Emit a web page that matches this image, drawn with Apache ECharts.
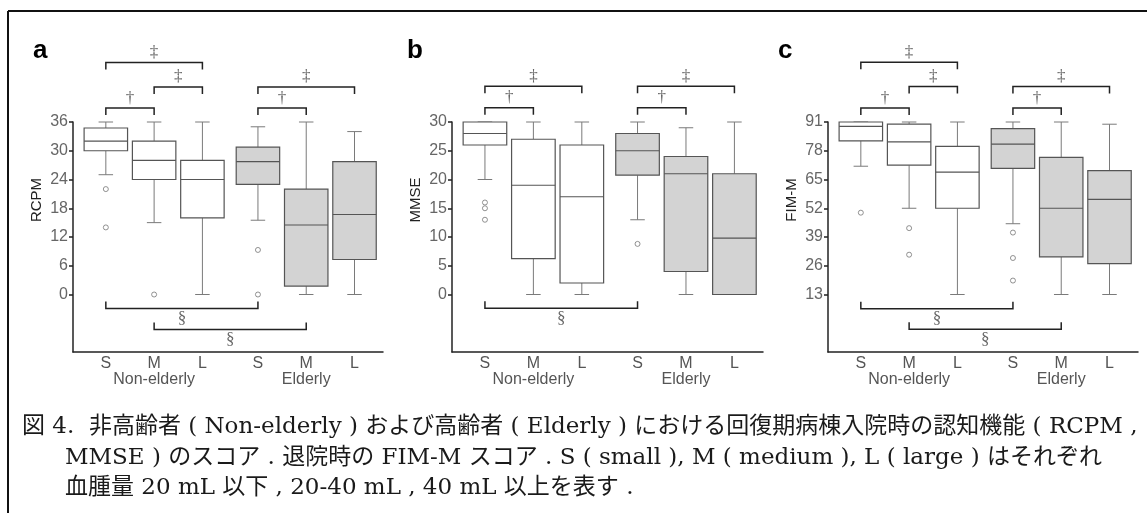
<!DOCTYPE html>
<html>
<head>
<meta charset="utf-8">
<script src="https://cdn.jsdelivr.net/npm/echarts@6/dist/echarts.min.js"></script>
<style>
  html, body { margin: 0; padding: 0; background: #fff; }
  #chart { width: 1147px; height: 513px; }
</style>
</head>
<body>
<div id="chart"></div>
<script>
// カテゴリ（血腫量）と群
const sizeLabels = ['S', 'M', 'L', 'S', 'M', 'L'];
const groupLabels = ['Non-elderly', 'Elderly'];
const xPos = [1, 2, 3, 4.15, 5.15, 6.15];

// 箱ひげ: [下ひげ, Q1, 中央値, Q3, 上ひげ]
const rcpmBoxes = [
  [25, 30, 32, 34.75, 36],
  [15, 24, 28, 32, 36],
  [0, 16, 24, 28, 36],
  [15.5, 23, 27.75, 30.75, 35],
  [0, 1.75, 14.5, 22, 36],
  [0, 7.3, 16.7, 27.75, 34]
];
const mmseBoxes = [
  [20, 26, 28, 30, 30],
  [0, 6.25, 19, 27, 30],
  [0, 2, 17, 26, 30],
  [13, 20.75, 25, 28, 30],
  [0, 4, 21, 24, 29],
  [0, 0, 9.8, 21, 30]
];
const fimBoxes = [
  [71, 82.5, 89, 91, 91],
  [52, 71.5, 82, 90, 91],
  [13, 52, 68.3, 80, 91],
  [45, 70, 81, 88, 91],
  [13, 30, 52, 75, 91],
  [13, 27, 56, 69, 90]
];

// 外れ値: [箱の番号, 値]
const rcpmOutliers = [[0, 22], [0, 14], [1, 0], [3, 9.3], [3, 0]];
const mmseOutliers = [[0, 16], [0, 15], [0, 13], [3, 8.8]];
const fimOutliers = [[0, 50], [1, 43], [1, 31], [3, 41], [3, 29.5], [3, 19.3]];

// 有意差ブラケット: [始点の箱, 終点の箱, 高さ(値), 記号]
const rcpmUpper = [[0, 1, 38.9, '†'], [1, 2, 43.3, '‡'], [0, 2, 48.4, '‡'], [3, 4, 38.9, '†'], [3, 5, 43.3, '‡']];
const rcpmLower = [[0, 3, -2.9, '§'], [1, 4, -7.3, '§']];
const mmseUpper = [[0, 1, 32.5, '†'], [0, 2, 36.2, '‡'], [3, 4, 32.5, '†'], [3, 5, 36.2, '‡']];
const mmseLower = [[0, 3, -2.4, '§']];
const fimUpper = [[0, 1, 97.3, '†'], [1, 2, 107, '‡'], [0, 2, 118, '‡'], [3, 4, 97.3, '†'], [3, 5, 107, '‡']];
const fimLower = [[0, 3, 6.6, '§'], [1, 4, -2.7, '§']];

// 目盛
const rcpmTicks = [0, 6, 12, 18, 24, 30, 36];
const mmseTicks = [0, 5, 10, 15, 20, 25, 30];
const fimTicks = [13, 26, 39, 52, 65, 78, 91];

const panels = [
  {letter: 'a', name: 'RCPM', boxes: rcpmBoxes, outliers: rcpmOutliers, upper: rcpmUpper, lower: rcpmLower,
    ticks: rcpmTicks, min: -12, max: 36, interval: 6, left: 73, width: 310, letterX: 33},
  {letter: 'b', name: 'MMSE', boxes: mmseBoxes, outliers: mmseOutliers, upper: mmseUpper, lower: mmseLower,
    ticks: mmseTicks, min: -10, max: 30, interval: 5, left: 452, width: 311, letterX: 407},
  {letter: 'c', name: 'FIM-M', boxes: fimBoxes, outliers: fimOutliers, upper: fimUpper, lower: fimLower,
    ticks: fimTicks, min: -13, max: 91, interval: 13, left: 828, width: 310, letterX: 778}
];

const BOX_W = 0.9;
const CAP_W = 0.3;
const SANS = '"Liberation Sans", Arial, sans-serif';
const SERIF = '"DejaVu Serif", "Noto Sans CJK JP", serif';

function renderBox(params, api) {
  const x = api.value(0);
  const lo = api.coord([x, api.value(1)]);
  const q1 = api.coord([x, api.value(2)]);
  const md = api.coord([x, api.value(3)]);
  const q3 = api.coord([x, api.value(4)]);
  const hi = api.coord([x, api.value(5)]);
  const bw = api.size([BOX_W, 0])[0];
  const cw = api.size([CAP_W, 0])[0];
  const cx = lo[0];
  const fill = api.value(6) ? '#d3d3d3' : '#fff';
  const wStyle = {stroke: '#7a7a7a', lineWidth: 1};
  const bStyle = {stroke: '#555', lineWidth: 1.2};
  return {
    type: 'group',
    children: [
      {type: 'line', shape: {x1: cx, y1: hi[1], x2: cx, y2: q3[1]}, style: wStyle},
      {type: 'line', shape: {x1: cx, y1: q1[1], x2: cx, y2: lo[1]}, style: wStyle},
      {type: 'line', shape: {x1: cx - cw / 2, y1: hi[1], x2: cx + cw / 2, y2: hi[1]}, style: wStyle},
      {type: 'line', shape: {x1: cx - cw / 2, y1: lo[1], x2: cx + cw / 2, y2: lo[1]}, style: wStyle},
      {type: 'rect', shape: {x: cx - bw / 2, y: q3[1], width: bw, height: q1[1] - q3[1]},
        style: {fill: fill, stroke: '#555', lineWidth: 1.2}},
      {type: 'line', shape: {x1: cx - bw / 2, y1: md[1], x2: cx + bw / 2, y2: md[1]}, style: bStyle}
    ]
  };
}

function makeBracketRender(list) {
  return function (params, api) {
    const p1 = api.coord([api.value(0), api.value(2)]);
    const p2 = api.coord([api.value(1), api.value(2)]);
    const dir = api.value(3);
    const t = 7 * dir;
    return {
      type: 'group',
      children: [
        {type: 'polyline',
          shape: {points: [[p1[0], p1[1] + t], [p1[0], p1[1]], [p2[0], p2[1]], [p2[0], p2[1] + t]]},
          style: {stroke: '#222', lineWidth: 1.5, fill: 'none'}},
        {type: 'text',
          style: {text: list[params.dataIndex][3], x: (p1[0] + p2[0]) / 2, y: p1[1] - dir * 10,
            align: 'center', verticalAlign: 'middle', fill: '#666', fontSize: 17, fontFamily: '"Liberation Serif", serif'}}
      ]
    };
  };
}

function xLabel(v) {
  const i = xPos.findIndex(p => Math.abs(p - v) < 1e-6);
  if (i < 0) return '';
  if (i === 1) return 'M\n' + groupLabels[0];
  if (i === 4) return 'M\n' + groupLabels[1];
  return sizeLabels[i];
}

const grids = [], xAxes = [], yAxes = [], series = [], graphics = [];

panels.forEach((p, i) => {
  grids.push({left: p.left, top: 122, width: p.width, height: 230});
  xAxes.push({
    gridIndex: i, type: 'value', min: 0.32, max: 6.74,
    splitLine: {show: false},
    axisLine: {show: true, onZero: false, lineStyle: {color: '#222', width: 1.5}},
    axisTick: {show: false},
    axisLabel: {customValues: xPos, formatter: xLabel, color: '#555', fontSize: 16, fontFamily: SANS,
      lineHeight: 16, margin: 4}
  });
  yAxes.push({
    gridIndex: i, type: 'value', min: p.min, max: p.max, interval: p.interval,
    splitLine: {show: false},
    axisLine: {show: true, onZero: false, lineStyle: {color: '#222', width: 1.5}},
    axisTick: {show: true, length: 4, customValues: p.ticks, lineStyle: {color: '#222', width: 1.5}},
    axisLabel: {customValues: p.ticks, color: '#666', fontSize: 16, fontFamily: SANS, margin: 5}
  });
  series.push({
    type: 'custom', xAxisIndex: i, yAxisIndex: i, clip: false,
    renderItem: renderBox,
    data: p.boxes.map((b, j) => [xPos[j]].concat(b, [j >= 3 ? 1 : 0]))
  });
  series.push({
    type: 'scatter', xAxisIndex: i, yAxisIndex: i, symbol: 'circle', symbolSize: 5,
    itemStyle: {color: '#fff', borderColor: '#777', borderWidth: 1},
    data: p.outliers.map(o => [xPos[o[0]], o[1]])
  });
  const br = p.upper.concat(p.lower);
  series.push({
    type: 'custom', xAxisIndex: i, yAxisIndex: i, clip: false,
    renderItem: makeBracketRender(br),
    data: br.map((b, j) => [xPos[b[0]], xPos[b[1]], b[2], j < p.upper.length ? 1 : -1])
  });
  graphics.push({
    type: 'text', x: p.letterX, y: 51,
    style: {text: p.letter, font: 'bold 26px ' + SANS, fill: '#000', align: 'left', verticalAlign: 'middle'}
  });
  graphics.push({
    type: 'text', x: p.left - 36, y: 200, rotation: Math.PI / 2,
    style: {text: p.name, font: '15px ' + SANS, fill: '#222', align: 'center', verticalAlign: 'middle'}
  });
});

const captionLines = [
  '図 4.  非高齢者 ( Non-elderly ) および高齢者 ( Elderly ) における回復期病棟入院時の認知機能 ( RCPM ,',
  'MMSE ) のスコア . 退院時の FIM-M スコア . S ( small ), M ( medium ), L ( large ) はそれぞれ',
  '血腫量 20 mL 以下 , 20-40 mL , 40 mL 以上を表す .'
];
const captionX = [22, 65, 65];
const captionY = [427, 458, 488];
captionLines.forEach((t, k) => {
  graphics.push({
    type: 'text', x: captionX[k], y: captionY[k],
    style: {text: t, font: '23px ' + SERIF, fill: '#1a1a1a', align: 'left', verticalAlign: 'middle'}
  });
});

// 外枠
graphics.push({type: 'line', shape: {x1: 8, y1: 11, x2: 1147, y2: 11}, style: {stroke: '#111', lineWidth: 2}});
graphics.push({type: 'line', shape: {x1: 8, y1: 11, x2: 8, y2: 513}, style: {stroke: '#111', lineWidth: 2}});

const chart = echarts.init(document.getElementById('chart'), null, {renderer: 'canvas'});
chart.setOption({
  animation: false,
  backgroundColor: '#fff',
  grid: grids,
  xAxis: xAxes,
  yAxis: yAxes,
  series: series,
  graphic: graphics
});
</script>
</body>
</html>
